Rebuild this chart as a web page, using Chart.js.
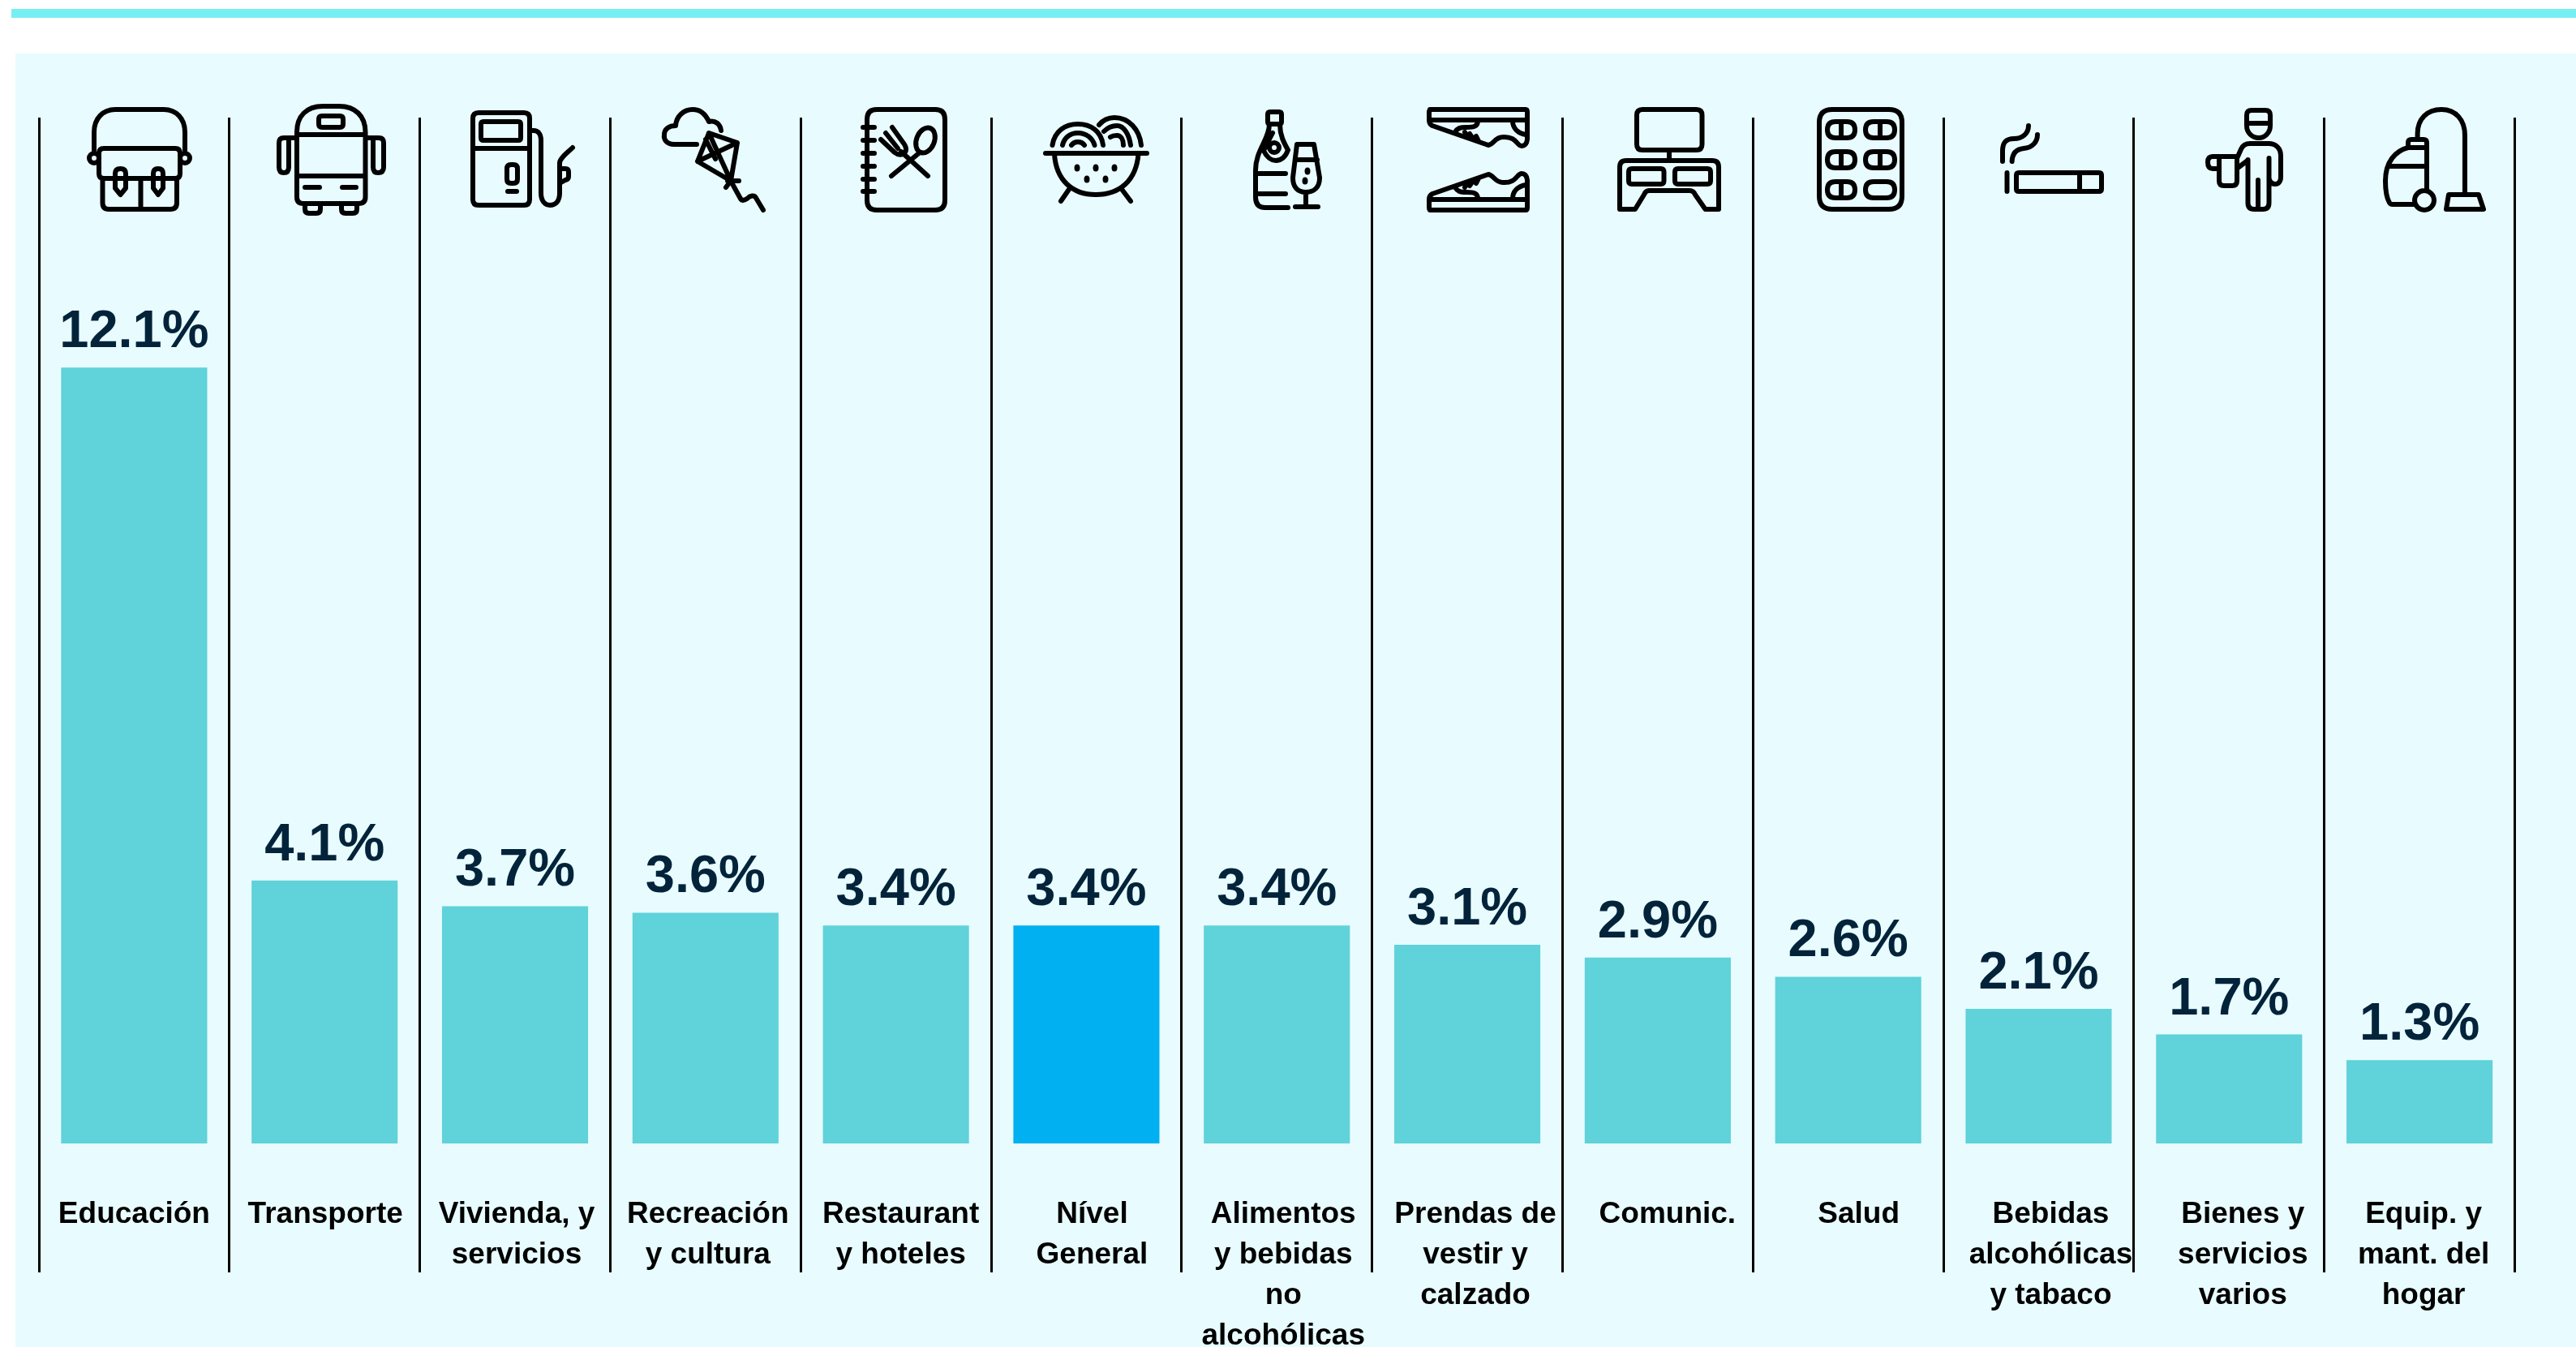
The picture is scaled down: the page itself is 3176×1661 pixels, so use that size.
<!DOCTYPE html>
<html lang="es">
<head>
<meta charset="utf-8">
<title>Variación por división de gasto</title>
<style>
  html, body { margin: 0; padding: 0; background: #ffffff; }
  #stage { position: relative; width: 3176px; height: 1661px; overflow: hidden; }
  #rule { position: absolute; left: 14px; right: 0; top: 11px; height: 11px; background: #76EFF3; }
  #panel { position: absolute; left: 19px; right: 0; top: 66px; bottom: 0; background: #E8FCFF; }
  canvas { position: absolute; left: 0; top: 0; }
</style>
<script src="https://cdn.jsdelivr.net/npm/chart.js@4"></script>
</head>
<body>
<div id="stage">
  <div id="rule"></div>
  <div id="panel"></div>
  <canvas id="chart" width="3176" height="1661"></canvas>
</div>
<script>
const categories = [
  ['Educación'],
  ['Transporte'],
  ['Vivienda, y', 'servicios'],
  ['Recreación', 'y cultura'],
  ['Restaurant', 'y hoteles'],
  ['Nível', 'General'],
  ['Alimentos', 'y bebidas', 'no', 'alcohólicas'],
  ['Prendas de', 'vestir y', 'calzado'],
  ['Comunic.'],
  ['Salud'],
  ['Bebidas', 'alcohólicas', 'y tabaco'],
  ['Bienes y', 'servicios', 'varios'],
  ['Equip. y', 'mant. del', 'hogar']
];

const values = [12.1, 4.1, 3.7, 3.6, 3.4, 3.4, 3.4, 3.1, 2.9, 2.6, 2.1, 1.7, 1.3];
const highlighted = 'Nível';

const BAR_COLOR = '#5FD2DA';
const HIGHLIGHT_COLOR = '#00B0F0';
const VALUE_COLOR = '#02233A';
const FONT_FAMILY = '"Liberation Sans", Arial, sans-serif';

// Category captions sit slightly to the right of their bars, more so further along the axis.
const captionDrift = [0, 1, 2, 3, 6, 7, 8, 10, 12, 13, 15, 17, 5];

function rr(x, y, w, h, r) {
  return `M${x + r} ${y}H${x + w - r}Q${x + w} ${y} ${x + w} ${y + r}V${y + h - r}Q${x + w} ${y + h} ${x + w - r} ${y + h}H${x + r}Q${x} ${y + h} ${x} ${y + h - r}V${y + r}Q${x} ${y} ${x + r} ${y}Z`;
}
function ell(cx, cy, rx, ry, deg = 0) {
  const a = deg * Math.PI / 180;
  const dx = rx * Math.cos(a), dy = rx * Math.sin(a);
  return `M${cx - dx} ${cy - dy}A${rx} ${ry} ${deg} 1 0 ${cx + dx} ${cy + dy}A${rx} ${ry} ${deg} 1 0 ${cx - dx} ${cy - dy}Z`;
}

// One line-art pictogram per column, in canvas pixels.
const shoe = [
  'M1763 135H1881Q1883 135 1883 138V172Q1882 180 1876 180C1870 180 1870 168 1853 169C1843 169 1842 178 1835 179L1766 155Q1762 153 1762 148V138Q1762 135 1765 135Z',
  'M1762 148H1883',
  'M1822 149C1822 156 1817 157 1808 157C1800 157 1797 158 1794 163',
  'M1865 149C1865 158 1871 164 1881 166',
  'M1812 165L1816 171M1820 168L1823 174M1806 163L1809 168'
].join('');

const icons = [
  // satchel
  { d: 'M116 185V163C116 146 127 135 142 135H202C217 135 228 146 228 163V185' +
       rr(122, 183, 100, 37, 6) + ell(116, 195, 6, 6) + ell(228, 195, 6, 6) +
       'M126.5 220V250Q126.5 258 134 258H210Q218 258 218 250V220M173.5 220V258' +
       'M142 214Q142 208 148.5 208Q155 208 155 214V232L148.5 240L142 232Z' +
       'M189 214Q189 208 195 208Q201 208 201 214V232L195 240L189 232Z' },
  // bus
  { d: 'M366 243V163C366 143 378 131 398 131H418C438 131 450.5 143 450.5 163V243Q450.5 251 442 251H374Q366 251 366 243Z' +
       rr(393, 143, 30, 14, 4) + 'M366 166H450.5M366 217H450.5M376 231H394M422 231H439' +
       'M366 170H350Q344 170 344 176V206Q344 213 350 213Q356 213 356 206V172' +
       'M450.5 170H467Q473 170 473 176V206Q473 213 466 213Q460 213 460 206V172' +
       'M376 251V258Q376 263 381 263H390Q395 263 395 258V251M421 251V258Q421 263 426 263H435Q440 263 440 258V251' },
  // fuel pump
  { d: rr(583, 139, 70, 114, 7) + rr(593, 150, 49, 23, 3) + 'M583 183H653' + rr(625, 203, 13, 23, 5) + 'M626 236H637' +
       'M654 161H658C664 161 667 166 667 173V238C667 248 672 253 678 253C685 253 690 248 690 238V201C690 195 700 188 706 182' +
       'M690 208H697Q701 208 701 212V218Q701 221 697 222L690 226' },
  // kite and cloud
  { d: 'M859 178H831C822 178 818 172 819 166C819 159 825 155 833 155C834 143 843 135 854 135C863 135 870 141 874 150C882 148 888 153 889 161' +
       'M874 164L909 176L901 223L860 199ZM874 164L901 223M860 199L909 176M870 172L882 196' +
       'M897 223H911M901 223L895 231M902 225L913 245C915 248 918 247 921 245C925 241 930 240 932 244L941 259' },
  // menu with cutlery
  { d: rr(1069, 135, 96, 124, 12) + 'M1064 157H1078M1064 173H1078M1064 189H1078M1064 205H1078M1064 221H1078M1064 236H1078' +
       'M1100 157L1115 178Q1120 186 1113 190Q1108 192 1103 188L1086 172M1092 164L1107 183M1111 187L1144 217' +
       ell(1141, 173, 11, 16, 22) + 'M1134 188L1099 217' },
  // noodles in a colander
  { d: 'M1289 189H1414M1300 190C1302 222 1322 240 1351 240C1381 240 1401 222 1403.5 190M1319 232L1308 248M1382 232L1394 248' +
       'M1297.5 179C1300 162 1313 153 1329 153C1345 153 1358 162 1360 179' +
       'M1310 179C1312 170 1319 164 1329 164C1339 164 1347 170 1349.5 179' +
       'M1321 179C1323 176 1325 175 1329 175C1333 175 1335 176 1337 179' +
       'M1355 154C1360 148 1367 145 1374 145C1392 145 1405 160 1407 179' +
       'M1361 162C1366 157 1371 155 1377 155C1386 155 1392 166 1394 179' +
       'M1369 169C1372 167 1374 167 1377 167C1382 167 1385 172 1385 179',
    dots: [[1328, 207], [1351, 207], [1374, 207], [1340, 221], [1363, 221]] },
  // sparkling wine and glass
  { d: rr(1563, 138, 17, 15, 3) +
       'M1565 153C1565 172 1548 185 1548 210V243Q1548 256 1560 256H1588' +
       'M1578 153C1578 167 1583 176 1588 185' +
       'M1558 186C1562 176 1566 170 1569 164M1558 186C1562 194 1567 198 1573 198C1580 198 1585 193 1588 185' +
       ell(1571, 182, 6, 6) + 'M1548 214H1585M1548 239H1585' +
       'M1599 178H1620L1627 219C1627 231 1620 237 1610 237C1600 237 1594 231 1594 219ZM1597 197H1624M1610 237V255M1597 255H1625',
    dots: [[1612, 211], [1609, 223]] },
  // pair of trainers, one mirrored over the other
  { d: shoe, mirrorAt: 394 },
  // point-of-sale terminal
  { d: rr(2018, 135, 80.5, 50, 7) + 'M2058 185V198' +
       'M1997 258V206Q1997 198 2005 198H2111Q2119 198 2119 206V258H2102.5L2090 240Q2088 235 2083 235H2033Q2029 235 2027 240L2016 258Z' +
       rr(2008, 208, 43.5, 19, 4) + rr(2065, 208, 44, 19, 4) },
  // blister pack
  { d: rr(2243, 135, 102, 123, 16) +
       rr(2253, 150, 34, 20, 10) + 'M2270 150V170' + rr(2300, 150, 36, 20, 10) + 'M2318 150V170' +
       rr(2253, 187, 34, 20, 10) + 'M2270 187V207' + rr(2300, 187, 36, 20, 10) + 'M2318 187V207' +
       rr(2253, 224, 34, 20, 10) + 'M2270 224V244' + rr(2300, 224, 36, 20, 10) },
  // lit cigarette
  { d: rr(2486, 213, 105, 23, 3) + 'M2564 213V236M2474.5 213V236' +
       'M2469 199V186C2469 175 2474 171 2483 171C2493 171 2501 165 2501 155' +
       'M2480.6 199C2481 190 2485 184 2495 183C2506 182 2512 175 2512 166' },
  // attendant with towel
  { d: 'M2770 152V142Q2770 136 2776 136H2793Q2799 136 2799 142V152ZM2770 152V155C2770 164 2777 170 2785 170C2792 170 2799 164 2799 155V152' +
       'M2759 193L2763 184Q2766 177 2774 177H2797C2806 177 2812 183 2812 192V218C2812 224 2809 227 2805 227Q2799 227 2797.5 220' +
       'M2797.5 195V250Q2797.5 258 2790 258H2779Q2771.5 258 2771.5 250V197M2784 222V258M2759 207L2771 198' +
       'M2759 193H2728Q2722 193 2722 200Q2722 208 2728 208H2736M2736 193V223Q2736 229 2742 229H2752Q2758 229 2758 223V193' },
  // vacuum cleaner
  { d: 'M2980.6 172V165C2980.6 146 2993 135 3010 135C3028 135 3039 148 3039 167V240' +
       'M3019 240H3056L3062 258H3016ZM2969 182V176Q2969 172 2973 172H2988Q2992 172 2992 176V235' +
       'M2969 182H2990M2969 182C2953 186 2941 200 2941 223C2941 236 2943 245 2946 250Q2947 252 2950 252H2978M2945 205H2991' +
       ell(2989, 247, 12, 12) }
];

// Percentage printed above every bar, taken from the bar's own value and position.
const valueLabels = {
  id: 'valueLabels',
  afterDatasetsDraw(chart) {
    const ctx = chart.ctx;
    const bars = chart.getDatasetMeta(0).data;
    ctx.save();
    ctx.font = `bold 65px ${FONT_FAMILY}`;
    ctx.fillStyle = VALUE_COLOR;
    ctx.textAlign = 'center';
    ctx.textBaseline = 'alphabetic';
    bars.forEach((bar, i) => ctx.fillText(values[i].toFixed(1) + '%', bar.x, bar.y - 25));
    ctx.restore();
  }
};

// Multi-line category captions below the baseline, placed from the category scale.
const categoryCaptions = {
  id: 'categoryCaptions',
  afterDraw(chart) {
    const ctx = chart.ctx;
    const scale = chart.scales.x;
    ctx.save();
    ctx.font = `bold 37px ${FONT_FAMILY}`;
    ctx.fillStyle = '#000000';
    ctx.textAlign = 'center';
    ctx.textBaseline = 'alphabetic';
    categories.forEach((lines, i) => {
      const x = scale.getPixelForValue(i) + captionDrift[i];
      lines.forEach((line, n) => ctx.fillText(line, x, chart.chartArea.bottom + 98 + n * 50));
    });
    ctx.restore();
  }
};

const pictograms = {
  id: 'pictograms',
  afterDraw(chart) {
    const ctx = chart.ctx;
    ctx.save();
    ctx.strokeStyle = '#000000';
    ctx.fillStyle = '#000000';
    ctx.lineWidth = 6;
    ctx.lineCap = 'round';
    ctx.lineJoin = 'round';
    icons.forEach(icon => {
      const path = new Path2D(icon.d);
      if (icon.mirrorAt) path.addPath(new Path2D(icon.d), new DOMMatrix([1, 0, 0, -1, 0, icon.mirrorAt]));
      ctx.stroke(path);
      (icon.dots || []).forEach(([x, y]) => {
        ctx.beginPath();
        ctx.ellipse(x, y, 3.5, 4.5, 0, 0, Math.PI * 2);
        ctx.fill();
      });
    });
    ctx.restore();
  }
};

new Chart(document.getElementById('chart'), {
  type: 'bar',
  data: {
    labels: categories.map(lines => lines.join(' ')),
    datasets: [{
      data: values,
      backgroundColor: categories.map(lines => lines[0] === highlighted ? HIGHLIGHT_COLOR : BAR_COLOR),
      borderWidth: 0,
      categoryPercentage: 1,
      barPercentage: 0.767
    }]
  },
  options: {
    responsive: false,
    animation: false,
    devicePixelRatio: 1,
    layout: { padding: { left: 48, right: 75.5, top: 145, bottom: 92 } },
    plugins: { legend: { display: false }, tooltip: { enabled: false } },
    scales: {
      x: {
        type: 'category',
        offset: true,
        border: { display: false },
        grid: { display: true, offset: true, color: '#000000', lineWidth: 3, drawTicks: true, tickLength: 159, tickColor: '#000000', tickWidth: 3 },
        ticks: { display: false }
      },
      y: { display: false, min: 0, max: 16 }
    }
  },
  plugins: [valueLabels, categoryCaptions, pictograms]
});
</script>
</body>
</html>
